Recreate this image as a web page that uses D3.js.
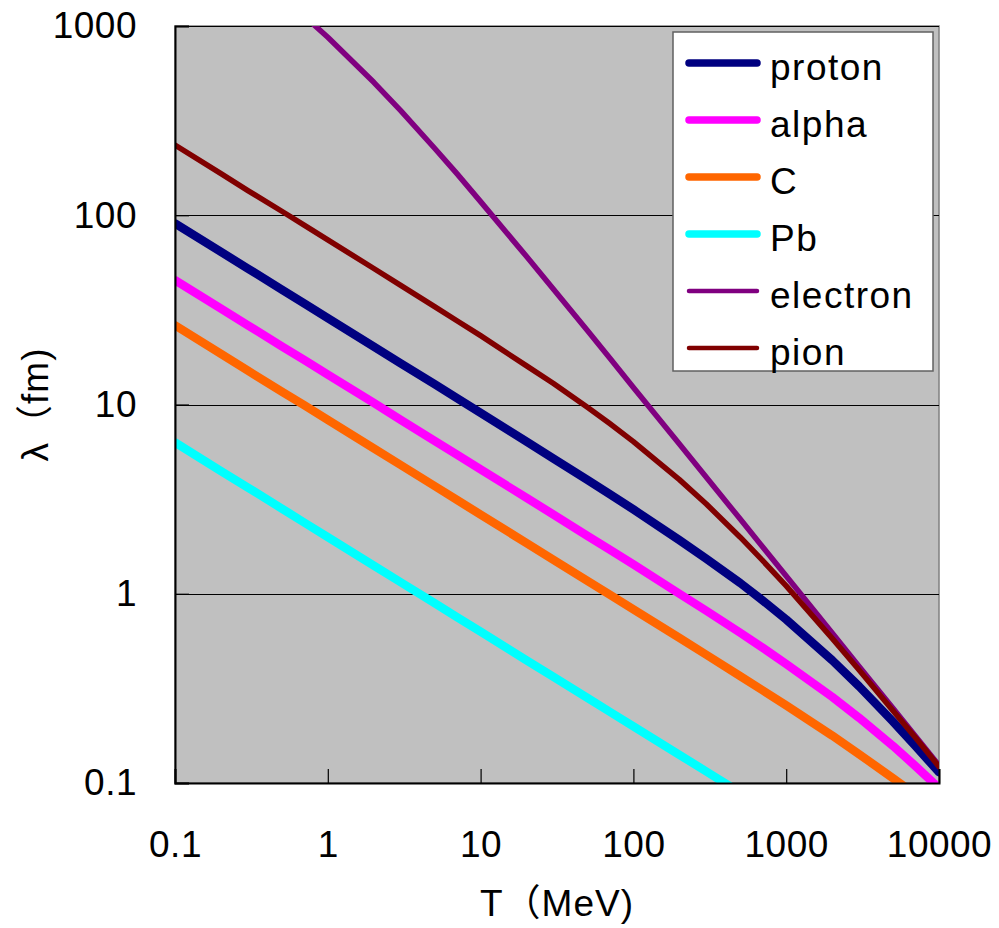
<!DOCTYPE html>
<html>
<head>
<meta charset="utf-8">
<script src="https://cdn.jsdelivr.net/npm/d3@7/dist/d3.min.js"></script>
<style>
  body { margin: 0; background: #fff; }
  text { font-family: "Liberation Sans", "Noto Sans CJK JP", sans-serif; fill: #000; }
</style>
</head>
<body>
<script>
// kinetic energy T (MeV)
var T = [0.1, 0.2, 0.3, 0.5, 0.7, 1, 2, 3, 5, 7, 10, 20, 30, 50, 70, 100, 200, 300, 500, 700, 1000, 2000, 3000, 5000, 7000, 10000];

// wavelength lambda (fm)
var proton   = [90.5, 64.0, 52.3, 40.5, 34.2, 28.6, 20.2, 16.5, 12.8, 10.8, 9.03, 6.37, 5.18, 4.00, 3.36, 2.79, 1.92, 1.53, 1.14, 0.923, 0.731, 0.445, 0.324, 0.211, 0.157, 0.114];
var alpha    = [45.4, 32.1, 26.2, 20.3, 17.2, 14.4, 10.2, 8.29, 6.42, 5.43, 4.54, 3.21, 2.62, 2.02, 1.71, 1.43, 1.00, 0.813, 0.622, 0.519, 0.426, 0.285, 0.221, 0.157, 0.123, 0.094];
var carbon   = [26.2, 18.5, 15.1, 11.7, 9.91, 8.29, 5.86, 4.79, 3.71, 3.13, 2.62, 1.85, 1.51, 1.17, 0.990, 0.827, 0.584, 0.476, 0.367, 0.309, 0.257, 0.178, 0.142, 0.106, 0.087, 0.069];
var lead     = [6.30, 4.45, 3.64, 2.82, 2.38, 1.99, 1.41, 1.15, 0.891, 0.753, 0.630, 0.445, 0.364, 0.282, 0.238, 0.199, 0.141, 0.115, 0.089, null, null, null, null, null, null, null];
var electron = [null, null, null, null, 1130, 872, 504, 357, 226, 166, 118, 60.5, 40.6, 24.6, 17.6, 12.3, 6.18, 4.13, 2.48, 1.77, 1.24, 0.620, 0.413, 0.248, 0.177, 0.124];
var pion     = [235, 166, 135, 105, 88.6, 74.1, 52.3, 42.6, 32.9, 27.7, 23.1, 16.0, 12.9, 9.67, 7.93, 6.37, 4.01, 2.98, 1.99, 1.50, 1.10, 0.581, 0.395, 0.241, 0.174, 0.122];

var seriesNames  = ["proton", "alpha", "C", "Pb", "electron", "pion"];
var seriesValues = [proton, alpha, carbon, lead, electron, pion];
var seriesColors = ["#000080", "#ff00ff", "#ff6600", "#00ffff", "#800080", "#800000"];
var seriesWidths = [8.5, 8.5, 8.5, 8.5, 5.5, 5.5];

var xTicks = [0.1, 1, 10, 100, 1000, 10000];
var yTicks = [0.1, 1, 10, 100, 1000];

draw_chart();

function draw_chart() {
    var w = 999, h = 928;
    var left = 175, right = 939, top = 26, bottom = 783;
    var fontSize = 37;

    var svg = d3.select("body")
        .append("svg")
        .attr("width", w)
        .attr("height", h);

    var x = d3.scaleLog().domain([0.1, 10000]).range([left, right]);
    var y = d3.scaleLog().domain([0.1, 1000]).range([bottom, top]);

    // plot area
    svg.append("rect")
        .attr("x", left).attr("y", top)
        .attr("width", right - left).attr("height", bottom - top)
        .attr("fill", "#c0c0c0")
        .attr("stroke", "#808080")
        .attr("stroke-width", 1.5);

    svg.append("clipPath").attr("id", "clip")
        .append("rect")
        .attr("x", left).attr("y", top)
        .attr("width", right - left).attr("height", bottom - top);

    // gridlines
    svg.append("g")
        .attr("transform", "translate(" + left + ",0)")
        .call(d3.axisLeft(y).tickValues(yTicks).tickSize(-(right - left)).tickFormat(""))
        .call(function (g) { g.select(".domain").remove(); })
        .selectAll("line")
        .attr("stroke", "#000")
        .attr("shape-rendering", "crispEdges");

    // series
    var line = d3.line()
        .defined(function (d) { return d[1] != null; })
        .x(function (d) { return x(d[0]); })
        .y(function (d) { return y(d[1]); });

    svg.append("g")
        .attr("clip-path", "url(#clip)")
        .selectAll("path")
        .data(seriesValues)
        .enter()
        .append("path")
        .attr("d", function (vals) {
            return line(T.map(function (t, i) { return [t, vals[i]]; }));
        })
        .attr("fill", "none")
        .attr("stroke", function (d, i) { return seriesColors[i]; })
        .attr("stroke-width", function (d, i) { return seriesWidths[i]; })
        .attr("stroke-linejoin", "round")
        .attr("stroke-linecap", "round");

    // axes
    var fmt = function (d) { return String(d); };

    var yAxis = svg.append("g")
        .attr("transform", "translate(" + left + ",0)")
        .call(d3.axisLeft(y).tickValues(yTicks).tickSize(-14).tickPadding(38).tickFormat(fmt));
    var xAxis = svg.append("g")
        .attr("transform", "translate(0," + bottom + ")")
        .call(d3.axisBottom(x).tickValues(xTicks).tickSize(-14).tickPadding(48).tickFormat(fmt));

    [xAxis, yAxis].forEach(function (g) {
        g.select(".domain").attr("stroke", "#000").attr("stroke-width", 2);
        g.selectAll(".tick line").attr("stroke", "#000").attr("stroke-width", 1.2);
        g.selectAll("text")
            .attr("font-size", fontSize)
            .attr("font-family", "'Liberation Sans', sans-serif")
            .attr("letter-spacing", 0.5)
            .attr("fill", "#000");
    });

    // axis titles
    svg.append("text")
        .attr("x", (left + right) / 2)
        .attr("y", 916)
        .attr("text-anchor", "middle")
        .attr("font-size", fontSize)
        .attr("letter-spacing", 1)
        .text("T（MeV)");

    svg.append("text")
        .attr("transform", "translate(48," + (top + bottom) / 2 + ") rotate(-90)")
        .attr("text-anchor", "middle")
        .attr("font-size", fontSize)
        .attr("letter-spacing", 1)
        .text("λ（fm)");

    // legend
    var legend = svg.append("g");
    legend.append("rect")
        .attr("x", 673).attr("y", 32)
        .attr("width", 260).attr("height", 339)
        .attr("fill", "#fff")
        .attr("stroke", "#606060")
        .attr("stroke-width", 1.5);

    var rows = legend.selectAll("g.row")
        .data(seriesNames)
        .enter()
        .append("g")
        .attr("class", "row")
        .attr("transform", function (d, i) { return "translate(0," + (63 + i * 57) + ")"; });

    rows.append("line")
        .attr("x1", 689).attr("x2", 757)
        .attr("stroke", function (d, i) { return seriesColors[i]; })
        .attr("stroke-width", function (d, i) { return seriesWidths[i] - 1; })
        .attr("stroke-linecap", "round");

    rows.append("text")
        .attr("x", 770)
        .attr("y", 17)
        .attr("font-size", fontSize)
        .attr("letter-spacing", 1.5)
        .text(function (d) { return d; });
}
</script>
</body>
</html>
